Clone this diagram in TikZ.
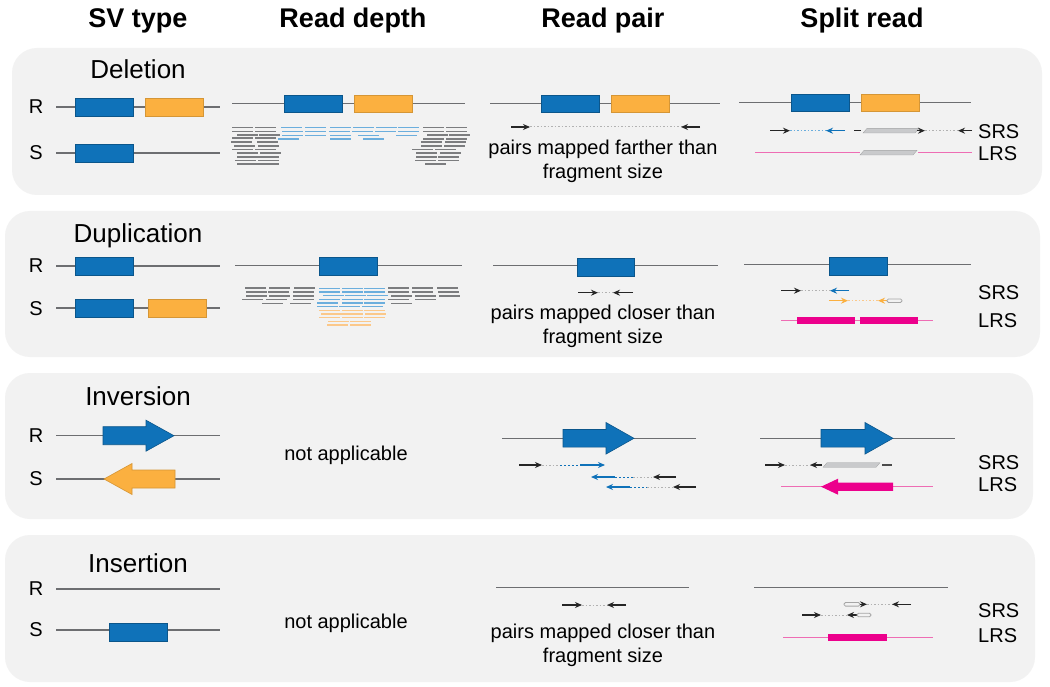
\documentclass[tikz,border=0pt]{standalone}
\usepackage{fontspec}
\setmainfont{Liberation Sans}
\usetikzlibrary{arrows.meta}
\definecolor{svblue}{HTML}{0F72B9}
\definecolor{svorange}{HTML}{FBB040}
\definecolor{panelgray}{HTML}{F2F2F2}
\definecolor{linegray}{HTML}{6D6E71}
\definecolor{readblue}{HTML}{6BAEDD}
\definecolor{readorange}{HTML}{FBC88A}
\definecolor{lrspink}{HTML}{EE6DB4}
\definecolor{lrsmag}{HTML}{EC008C}
\definecolor{clipgray}{HTML}{C9CACC}

\tikzset{
  panel/.style={fill=panelgray, rounded corners=25pt},
  refline/.style={draw=linegray, line width=1.3pt},
  bluebox/.style={fill=svblue, draw=svblue!75!black, line width=0.6pt},
  orangebox/.style={fill=svorange, draw=svorange!85!black, line width=0.6pt},
  colhead/.style={font=\fontsize{27}{32}\selectfont\bfseries, anchor=base},
  svname/.style={font=\fontsize{26}{30}\selectfont, anchor=base},
  hap/.style={font=\fontsize{20}{24}\selectfont, anchor=base},
  note/.style={font=\fontsize{20}{24}\selectfont, align=center, anchor=base},
  readlbl/.style={font=\fontsize{20}{24}\selectfont, anchor=base west, inner sep=0pt},
  fwd/.style={draw=black!85, line width=1.2pt, -{Stealth[length=7pt,width=6pt]}},
  gap/.style={draw=black!30, line width=1pt, dash pattern=on 1.5pt off 2pt},
  bluegap/.style={draw=svblue, line width=1pt, dash pattern=on 2pt off 2pt},
  rdgray/.style={draw=linegray!90, line width=1.6pt},
  rdblue/.style={draw=readblue, line width=1.4pt},
  rdorange/.style={draw=readorange, line width=1.4pt},
  lrsline/.style={draw=lrspink, line width=1.3pt},
  lrsbar/.style={fill=lrsmag, draw=none},
  clipped/.style={fill=clipgray, draw=clipgray!80!black, line width=0.3pt},
  pillbox/.style={draw=black!35, fill=black!5, line width=0.8pt, rounded corners=1.5pt}
}
\newcommand{\blockarr}[7][]{\filldraw[#1] (#3,{#2-#6}) -- (#4,{#2-#6}) -- (#4,{#2-#7}) -- (#5,#2) -- (#4,{#2+#7}) -- (#4,{#2+#6}) -- (#3,{#2+#6}) -- cycle;}
\newcommand{\softclip}[3]{\filldraw[clipped] (#1,{#3+2.3}) -- ({#2-4},{#3+2.3}) -- (#2,{#3-2.3}) -- ({#1+4},{#3-2.3}) -- cycle;}
\newcommand{\pill}[3]{\draw[pillbox] (#1,{#3-1.8}) rectangle (#2,{#3+1.8});}

\begin{document}
\begin{tikzpicture}[x=1pt, y=-1pt]
\useasboundingbox[fill=white] (0,0) rectangle (1050,687);

\node[colhead] (hsv) at (138,27.3) {SV type};
\node[colhead] (hrd) at (353,27.3) {Read depth};
\node[colhead] (hrp) at (603,27.3) {Read pair};
\node[colhead] (hsr) at (862,27.3) {Split read};

% deletion
\fill[panel] (12,48) rectangle (1042,195);
\node[svname] (del) at (138,79) {Deletion};
\node[hap] (delr) at (36,113.5) {R};
\node[hap] (dels) at (36,160) {S};
\draw[refline] (56,107) -- (220,107);
\filldraw[bluebox] (75,98) rectangle (133,116);
\filldraw[orangebox] (145,98) rectangle (203,116);
\draw[refline] (56,153) -- (220,153);
\filldraw[bluebox] (75,144) rectangle (133,162);

\draw[refline] (232,103.3) -- (465,103.3);
\filldraw[bluebox] (284,95) rectangle (342,112.3);
\filldraw[orangebox] (354,95) rectangle (412,112.3);
\foreach \x/\y in {232/127.7, 255/127.7, 232/131.7, 255/131.7, 237/135, 259/135, 232/138.3, 255/138.3, 231/142.3, 257/142.3, 234/146, 258/146, 232/149.7, 255/149.7, 237/153.3, 260/153.3, 237/157, 258/157, 235/160.7, 258/160.7, 237/164.3, 258/164.3,
  423/127.7, 446/127.7, 423/131.7, 446/131.7, 427/135, 449/135, 423/139, 446/139, 421/142.3, 445/142.3, 421/146, 444/146, 412/149.7, 435/149.7, 416/153.3, 440/153.3, 416/157, 438/157, 415/160.7, 438/160.7, 425/164.3}
  \draw[rdgray] (\x,\y) -- ++(21,0);
\foreach \x/\y in {281/127.7, 305/127.7, 330/127.7, 353/127.7, 376/127.7, 398/127.7, 282/131.7, 305/131.7, 329/131.7, 352/131.7, 375/131.7, 398/131.7, 282/135.7, 305/135.7, 330/135.7, 358/135.7, 396/135.7, 278/139, 330/139, 363/139}
  \draw[rdblue] (\x,\y) -- ++(21,0);

\draw[refline] (490,103.3) -- (720,103.3);
\filldraw[bluebox] (541.7,95) rectangle (599,112.3);
\filldraw[orangebox] (611.7,95) rectangle (669.7,112.3);
\draw[fwd] (511,127) -- (530,127);
\draw[gap] (530,127) -- (681,127);
\draw[fwd] (700,127) -- (681,127);
\node[note] (delnote) at (603,179) {pairs mapped farther than\\fragment size};

\draw[refline] (739,102.7) -- (971,102.7);
\filldraw[bluebox] (791,94.3) rectangle (849,111.7);
\filldraw[orangebox] (861,94.3) rectangle (919,111.7);
\draw[fwd] (770,130.7) -- (790,130.7);
\draw[gap, draw=readblue] (790,130.7) -- (827,130.7);
\draw[fwd, draw=svblue] (845,130.7) -- (826,130.7);
\draw[draw=black!85, line width=1.2pt] (854,130.7) -- (861,130.7);
\softclip{863}{919}{130.7}
\draw[fwd] (917,130.7) -- (925,130.7);
\draw[gap] (925,130.7) -- (958,130.7);
\draw[fwd] (972,130.7) -- (958,130.7);
\draw[lrsline] (755,152.7) -- (860,152.7);
\softclip{860}{917}{152.7}
\draw[lrsline] (918,152.7) -- (972,152.7);
\node[readlbl] (delsrs) at (978,138.3) {SRS};
\node[readlbl] (dellrs) at (978,161) {LRS};

% duplication
\fill[panel] (5,211) rectangle (1040,357);
\node[svname] (dup) at (138,242.5) {Duplication};
\node[hap] (dupr) at (36,272.5) {R};
\node[hap] (dups) at (36,315) {S};
\draw[refline] (56,266) -- (220,266);
\filldraw[bluebox] (75,257) rectangle (133,275);
\draw[refline] (56,308) -- (220,308);
\filldraw[bluebox] (75,299) rectangle (133,317);
\filldraw[orangebox] (148,299) rectangle (206,317);

\draw[refline] (235,265.7) -- (462,265.7);
\filldraw[bluebox] (319,257) rectangle (377,275);
\foreach \x/\y in {245/288.3, 269/288.3, 294/288.3, 246/292, 268/292, 293/292, 246/295.7, 269/295.7, 293/295.7, 242/299.3, 266/299.3, 293/299.3, 262/303.3, 290/303.3,
  388/288.3, 412/288.3, 437/288.3, 388/292, 412/292, 438/292, 391/295.7, 415/295.7, 439/295.7, 388/299.3, 415/299.3, 391/303.3}
  \draw[rdgray] (\x,\y) -- ++(21,0);
\foreach \x/\y in {319/288.3, 342/288.3, 364/288.3, 319/292, 342/292, 364/292, 323/295.7, 345/295.7, 367/295.7, 319/299.3, 342/299.3, 364/299.3, 317/303, 342/303, 364/303, 317/306.7, 339/306.7, 362/306.7}
  \draw[rdblue] (\x,\y) -- ++(21,0);
\foreach \x/\y in {319/310.3, 342/310.3, 364/310.3, 321/314, 342/314, 365/314, 319/317.7, 342/317.7, 364/317.7, 328/321.3, 350/321.3, 327/325, 350/325}
  \draw[rdorange] (\x,\y) -- ++(21,0);

\draw[refline] (493,265.7) -- (718,265.7);
\filldraw[bluebox] (577,258) rectangle (634,276);
\draw[fwd] (578,292.7) -- (598,292.7);
\draw[gap] (598,292.7) -- (613,292.7);
\draw[fwd] (633,292.7) -- (613,292.7);
\node[note] (dupnote) at (603,343) {pairs mapped closer than\\fragment size};

\draw[refline] (744,264.7) -- (971,264.7);
\filldraw[bluebox] (829,257) rectangle (887,275);
\draw[fwd] (781,290.7) -- (801,290.7);
\draw[gap] (801,290.7) -- (830,290.7);
\draw[fwd, draw=svblue] (849,290.7) -- (830,290.7);
\draw[fwd, draw=svorange] (829,300.7) -- (848,300.7);
\draw[gap, draw=readorange] (848,300.7) -- (878,300.7);
\draw[fwd, draw=svorange] (887,300.7) -- (878,300.7);
\pill{887}{902}{300.7}
\draw[lrsline] (781,320.3) -- (933,320.3);
\fill[lrsbar] (797,317.3) rectangle (855,323.5);
\fill[lrsbar] (860,317.3) rectangle (918,323.5);
\node[readlbl] (dupsrs) at (978,299) {SRS};
\node[readlbl] (duplrs) at (978,327.3) {LRS};

% inversion
\fill[panel] (5,373) rectangle (1033,519);
\node[svname] (inv) at (138,405.5) {Inversion};
\node[hap] (invr) at (36,442) {R};
\node[hap] (invs) at (36,485.5) {S};
\draw[refline] (56,435.7) -- (220,435.7);
\blockarr[bluebox]{435.7}{103}{146}{174}{9}{15.5}
\draw[refline] (56,479) -- (220,479);
\blockarr[orangebox]{479}{175}{132}{104}{9}{15.5}
\node[note] (invna) at (346,460) {not applicable};

\draw[refline] (502,438.3) -- (696,438.3);
\blockarr[bluebox]{438.3}{563}{606}{634}{8.8}{15.8}
\draw[fwd] (519,465) -- (542,465);
\draw[gap] (542,465) -- (560,465);
\draw[bluegap] (560,465) -- (580,465);
\draw[fwd, draw=svblue] (580,465) -- (605,465);
\draw[fwd, draw=svblue] (615,477) -- (591,477);
\draw[bluegap] (615,477) -- (633,477);
\draw[gap] (633,477) -- (653,477);
\draw[fwd] (676,477) -- (653,477);
\draw[fwd, draw=svblue] (630,487) -- (606,487);
\draw[bluegap] (630,487) -- (647,487);
\draw[gap] (647,487) -- (673,487);
\draw[fwd] (696,487) -- (673,487);

\draw[refline] (760,438.3) -- (955,438.3);
\blockarr[bluebox]{438.3}{821}{865}{893}{8.8}{15.8}
\draw[fwd] (765,465) -- (785,465);
\draw[gap] (785,465) -- (810,465);
\draw[fwd] (822,465) -- (810,465);
\softclip{823}{880}{465}
\draw[draw=black!70, line width=1.2pt] (882,465) -- (892,465);
\draw[lrsline] (781,486.7) -- (933,486.7);
\blockarr[lrsbar]{486.7}{893}{838}{821}{4.2}{8}
\node[readlbl] (invsrs) at (978,469.3) {SRS};
\node[readlbl] (invlrs) at (978,491.7) {LRS};

% insertion
\fill[panel] (5,535) rectangle (1035,682);
\node[svname] (ins) at (138,572) {Insertion};
\node[hap] (insr) at (36,595) {R};
\node[hap] (inss) at (36,636.5) {S};
\draw[refline] (56,589) -- (220,589);
\draw[refline] (56,630) -- (220,630);
\filldraw[bluebox] (109,623.5) rectangle (167,641);
\node[note] (insna) at (346,628) {not applicable};

\draw[refline] (496,587.3) -- (689,587.3);
\draw[fwd] (562,605) -- (582,605);
\draw[gap] (582,605) -- (607,605);
\draw[fwd] (626,605) -- (607,605);
\node[note] (insnote) at (603,662) {pairs mapped closer than\\fragment size};

\draw[refline] (754,587.3) -- (948,587.3);
\pill{844}{860}{604.3}
\draw[fwd] (860,604.3) -- (867,604.3);
\draw[gap] (867,604.3) -- (892,604.3);
\draw[fwd] (911,604.3) -- (892,604.3);
\draw[fwd] (802,615) -- (821,615);
\draw[gap] (821,615) -- (847,615);
\draw[fwd] (857,615) -- (847,615);
\pill{857}{871}{615}
\draw[lrsline] (783,637.7) -- (933,637.7);
\fill[lrsbar] (828,634) rectangle (887,641);
\node[readlbl] (inssrs) at (978,617.3) {SRS};
\node[readlbl] (inslrs) at (978,642.7) {LRS};
\end{tikzpicture}
\end{document}
